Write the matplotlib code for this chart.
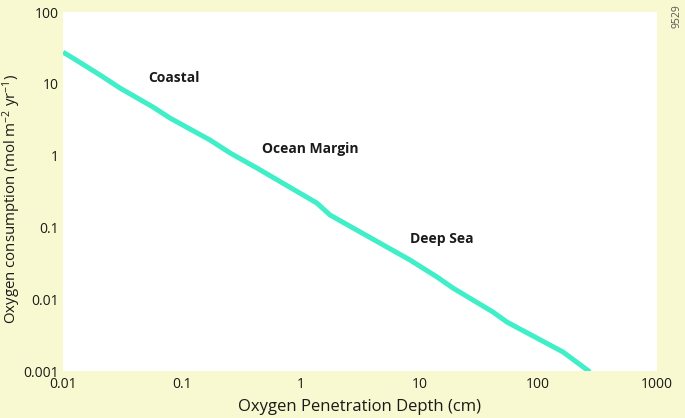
import numpy as np
import matplotlib.pyplot as plt

# Profundidade de penetracao do oxigenio (cm) e consumo (mol m-2 yr-1)
depth = [0.01, 0.0121, 0.0205, 0.0302, 0.0573, 0.0796, 0.173, 0.255, 0.430,
         1.37, 1.77, 8.34, 14.1, 19.2, 41.7, 54.6, 162, 273]
consumption = [27.7, 22.9, 13.3, 8.74, 4.75, 3.34, 1.65, 1.09, 0.671,
               0.219, 0.149, 0.0352, 0.0204, 0.0143, 0.00663, 0.00481, 0.00184, 0.00097]

regions = ["Coastal", "Ocean Margin", "Deep Sea"]
region_x = [0.052, 0.47, 8.3]
region_y = [12, 1.24, 0.069]

xticks = [0.01, 0.1, 1, 10, 100, 1000]
xtick_labels = ["0.01", "0.1", "1", "10", "100", "1000"]
yticks = [0.001, 0.01, 0.1, 1, 10, 100]
ytick_labels = ["0.001", "0.01", "0.1", "1", "10", "100"]

plt.rcParams['font.family'] = ['Open Sans', 'DejaVu Sans']
plt.rcParams['mathtext.fontset'] = 'custom'
plt.rcParams['mathtext.rm'] = 'Open Sans'
plt.rcParams['mathtext.default'] = 'rm'

bg = '#f8f9d0'
fig = plt.figure(figsize=(6.85, 4.18), dpi=100, facecolor=bg)
ax = fig.add_axes([0.092, 0.1124, 0.867, 0.8586])
ax.set_facecolor('white')

ax.plot(depth, consumption, color='#40efc8', linewidth=3.6, solid_capstyle='butt')

ax.set_xscale('log')
ax.set_yscale('log')
ax.set_xlim(0.01, 1000)
ax.set_ylim(0.001, 100)
ax.minorticks_off()
ax.set_xticks(xticks)
ax.set_xticklabels(xtick_labels)
ax.set_yticks(yticks)
ax.set_yticklabels(ytick_labels)
ax.tick_params(length=0, labelsize=10, colors='#1a1a1a', pad=4)
ax.tick_params(axis='y', pad=3)
for s in ax.spines.values():
    s.set_visible(False)

for name, x, y in zip(regions, region_x, region_y):
    ax.text(x, y, name, ha='left', va='center', fontsize=10, fontweight='bold', color='#1a1a1a')

ax.set_xlabel("Oxygen Penetration Depth (cm)", fontsize=12, color='#1a1a1a', labelpad=5)
ax.set_ylabel(r"Oxygen consumption (mol m$^{-2}$ yr$^{-1}$)", fontsize=10.8, color='#1a1a1a')
ax.yaxis.set_label_coords(-0.068, 0.48)

fig.text(0.988, 0.962, "9529", rotation=90, fontsize=7.5, color='#555555', ha='center', va='center')

plt.savefig("out.png", dpi=100, facecolor=bg)
plt.close()
